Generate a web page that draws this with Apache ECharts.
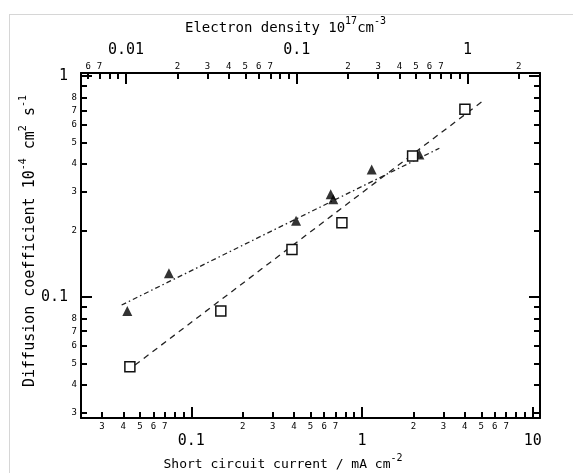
<!DOCTYPE html>
<html>
<head>
<meta charset="utf-8">
<title>Diffusion coefficient vs short circuit current</title>
<script src="https://cdn.jsdelivr.net/npm/echarts@6/dist/echarts.min.js"></script>
<style>
    html, body { margin: 0; padding: 0; background: #fff; }
    #frame { position: absolute; left: 9px; top: 14px; right: 0; bottom: 0;
             border-left: 1px solid #d6d6d6; border-top: 1px solid #d6d6d6; }
    #chart { position: absolute; left: 0; top: 0; width: 573px; height: 473px; }
</style>
</head>
<body>
<div id="frame"></div>
<div id="chart"></div>
<script>
const currentTriangles   = [0.0422, 0.0740, 0.411, 0.656, 0.679, 1.14, 2.17];
const diffusionTriangles = [0.0864, 0.128, 0.2215, 0.292, 0.277, 0.378, 0.442];
const currentSquares     = [0.0437, 0.149, 0.389, 0.763, 1.98, 4.01];
const diffusionSquares   = [0.0484, 0.0864, 0.164, 0.217, 0.4345, 0.707];

// Fit line end points
const fitTriangleCurrent   = [0.0391, 2.84];
const fitTriangleDiffusion = [0.092, 0.471];
const fitSquareCurrent     = [0.0468, 5.13];
const fitSquareDiffusion   = [0.0492, 0.773];

// Axis ranges
const currentRange   = [0.0226, 11.04];
const densityRange   = [0.00545, 2.663];
const diffusionRange = [0.02835, 1.032];

// Ticks and tick labels
const bottomMajor       = [0.1, 1, 10];
const bottomMinor       = [0.03, 0.04, 0.05, 0.06, 0.07, 0.08, 0.09,
                           0.2, 0.3, 0.4, 0.5, 0.6, 0.7, 0.8, 0.9,
                           2, 3, 4, 5, 6, 7, 8, 9];
const bottomMinorLabels = [0.03, 0.04, 0.05, 0.06, 0.07,
                           0.2, 0.3, 0.4, 0.5, 0.6, 0.7,
                           2, 3, 4, 5, 6, 7];
const topMajor          = [0.01, 0.1, 1];
const topMinor          = [0.006, 0.007, 0.008, 0.009,
                           0.02, 0.03, 0.04, 0.05, 0.06, 0.07, 0.08, 0.09,
                           0.2, 0.3, 0.4, 0.5, 0.6, 0.7, 0.8, 0.9, 2];
const topMinorLabels    = [0.006, 0.007,
                           0.02, 0.03, 0.04, 0.05, 0.06, 0.07,
                           0.2, 0.3, 0.4, 0.5, 0.6, 0.7, 2];
const leftMajor         = [0.1, 1];
const leftMinor         = [0.03, 0.04, 0.05, 0.06, 0.07, 0.08, 0.09,
                           0.2, 0.3, 0.4, 0.5, 0.6, 0.7, 0.8, 0.9];
const leftMinorLabels   = [0.03, 0.04, 0.05, 0.06, 0.07, 0.08,
                           0.2, 0.3, 0.4, 0.5, 0.6, 0.7, 0.8];

const L = v => Math.log10(v);
const pairs = (xs, ys) => xs.map((x, i) => [L(x), L(ys[i])]);

const mono = '"DejaVu Sans Mono", "Liberation Mono", monospace';
const ink = '#000';

function digitLabel(v) {
    const r = Math.pow(10, v);
    const e = Math.floor(v + 1e-9);
    return String(Math.round(r / Math.pow(10, e)));
}
function decadeLabel(v) {
    return String(parseFloat(Math.pow(10, v).toPrecision(3)));
}

const supRich = {
    sup: { fontSize: 10, lineHeight: 10, verticalAlign: 'top', fontFamily: mono, color: ink }
};

function minorAxis(position, range, ticks, labels, margin) {
    return {
        type: 'value', position: position,
        min: L(range[0]), max: L(range[1]),
        splitLine: { show: false },
        axisLine: { show: true, onZero: false, lineStyle: { color: ink, width: 2 } },
        axisTick: { show: true, inside: true, length: 6, customValues: ticks.map(L),
                    lineStyle: { color: ink, width: 2 } },
        axisLabel: labels ? { show: true, customValues: labels.map(L), formatter: digitLabel,
                              fontSize: 9, margin: margin, color: ink, fontFamily: mono }
                          : { show: false }
    };
}
function majorAxis(position, range, ticks, withLabels, margin) {
    return {
        type: 'value', position: position,
        min: L(range[0]), max: L(range[1]),
        splitLine: { show: false },
        axisLine: { show: false, onZero: false },
        axisTick: { show: true, inside: true, length: 11, customValues: ticks.map(L),
                    lineStyle: { color: ink, width: 2 } },
        axisLabel: withLabels ? { show: true, customValues: ticks.map(L), formatter: decadeLabel,
                                  fontSize: 15, margin: margin, color: ink, fontFamily: mono }
                              : { show: false }
    };
}

const chart = echarts.init(document.getElementById('chart'), null, { renderer: 'canvas' });

const bottomTitle = Object.assign(majorAxis('bottom', currentRange, bottomMajor, true, 16), {
    name: 'Short circuit current / mA cm{sup|-2}',
    nameLocation: 'middle', nameGap: 35, nameMoveOverlap: false,
    nameTextStyle: { fontSize: 13, lineHeight: 24, fontFamily: mono, color: ink,
                     padding: [0, 55, 0, 0], rich: supRich }
});
const topTitle = Object.assign(majorAxis('top', densityRange, topMajor, true, 15), {
    name: 'Electron density 10{sup|17}cm{sup|-3}',
    nameLocation: 'middle', nameGap: 33, nameMoveOverlap: false,
    nameTextStyle: { fontSize: 14, lineHeight: 24, fontFamily: mono, color: ink,
                     padding: [0, 50, 0, 0], rich: supRich }
});
const leftTitle = Object.assign(majorAxis('left', diffusionRange, leftMajor, true, 13), {
    name: 'Diffusion coefficient 10{sup|-4} cm{sup|2} s{sup|-1}',
    nameLocation: 'middle', nameGap: 39, nameMoveOverlap: false,
    nameTextStyle: { fontSize: 15, lineHeight: 24, fontFamily: mono, color: ink,
                     padding: [0, 0, 0, 9], rich: supRich }
});

chart.setOption({
    animation: false,
    backgroundColor: 'transparent',
    grid: { left: 81, right: 33, top: 73, bottom: 55, containLabel: false, outerBoundsMode: 'none' },
    xAxis: [
        minorAxis('bottom', currentRange, bottomMinor, bottomMinorLabels, 4),
        bottomTitle,
        minorAxis('top', densityRange, topMinor, topMinorLabels, 2),
        topTitle
    ],
    yAxis: [
        minorAxis('left', diffusionRange, leftMinor, leftMinorLabels, 4),
        leftTitle,
        minorAxis('right', diffusionRange, leftMinor, null, 0),
        majorAxis('right', diffusionRange, leftMajor, false, 0)
    ],
    series: [
        {
            name: 'Triangle fit', type: 'line', xAxisIndex: 0, yAxisIndex: 0,
            data: pairs(fitTriangleCurrent, fitTriangleDiffusion),
            symbol: 'none', silent: true, z: 2,
            lineStyle: { color: '#222', width: 1.3, type: [5, 3, 1.5, 3] }
        },
        {
            name: 'Square fit', type: 'line', xAxisIndex: 0, yAxisIndex: 0,
            data: pairs(fitSquareCurrent, fitSquareDiffusion),
            symbol: 'none', silent: true, z: 2,
            lineStyle: { color: '#222', width: 1.3, type: [6, 5] }
        },
        {
            name: 'Triangles', type: 'scatter', xAxisIndex: 0, yAxisIndex: 0,
            data: pairs(currentTriangles, diffusionTriangles),
            symbol: 'triangle', symbolSize: 10, z: 3,
            itemStyle: { color: '#000' }
        },
        {
            name: 'Squares', type: 'scatter', xAxisIndex: 0, yAxisIndex: 0,
            data: pairs(currentSquares, diffusionSquares),
            symbol: 'rect', symbolSize: 10, z: 4,
            itemStyle: { color: '#fff', borderColor: '#111', borderWidth: 1.5, opacity: 1 }
        }
    ]
});
</script>
</body>
</html>
